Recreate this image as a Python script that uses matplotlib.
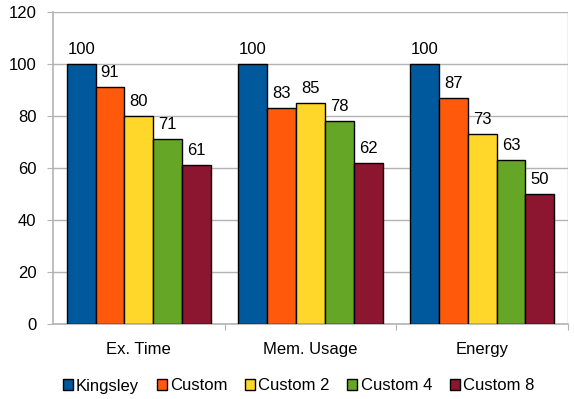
import matplotlib
matplotlib.use("Agg")
import matplotlib.pyplot as plt
import numpy as np

categories = ["Ex. Time", "Mem. Usage", "Energy"]
series_names = ["Kingsley", "Custom", "Custom 2", "Custom 4", "Custom 8"]
kingsley = [100, 100, 100]
custom = [91, 83, 87]
custom2 = [80, 85, 73]
custom4 = [71, 78, 63]
custom8 = [61, 62, 50]
colors = ["#00599c", "#ff5a0c", "#ffd72a", "#66a626", "#8c1530"]
yticks = [0, 20, 40, 60, 80, 100, 120]

plt.rcParams['font.family'] = ['Liberation Sans', 'DejaVu Sans']

fig = plt.figure(figsize=(5.74, 3.99), dpi=100)
ax = fig.add_axes([53/574, 1-324/399, (568-53)/574, (324-12)/399])

values = [kingsley, custom, custom2, custom4, custom8]
n = len(values)
bw = 0.168
x = np.arange(len(categories)) + 0.5
for i, (name, vals, c) in enumerate(zip(series_names, values, colors)):
    pos = x + (i - (n - 1) / 2) * bw
    bars = ax.bar(pos, vals, width=bw, color=c, edgecolor="black", linewidth=1.0,
                  label=name, zorder=3)
    for b, v in zip(bars, vals):
        ax.annotate(f"{v}", (b.get_x() + b.get_width() / 2, v), xytext=(0, 5),
                    textcoords="offset points", ha="center", va="bottom", fontsize=12)

ax.set_xlim(0, 3)
ax.set_ylim(0, 120)
ax.set_yticks(yticks)
ax.tick_params(axis="y", labelsize=12, length=4, color="#b3b3b3", pad=8)
ax.set_xticks([1, 2, 3])
ax.set_xticklabels([])
ax.set_xticks(x, minor=True)
ax.set_xticklabels(categories, minor=True, fontsize=12)
ax.tick_params(axis="x", which="major", length=4, color="#b3b3b3")
ax.tick_params(axis="x", which="minor", length=0, pad=13)
ax.grid(axis="y", color="#b3b3b3", linewidth=1.0, zorder=0)
ax.axvline(3, color="#b3b3b3", linewidth=1.0, zorder=0)
for s in ["top", "right"]:
    ax.spines[s].set_visible(False)
for s in ["left", "bottom"]:
    ax.spines[s].set_color("#b3b3b3")
    ax.spines[s].set_linewidth(1.2)

handles, labels = ax.get_legend_handles_labels()
fig.legend(handles, labels, loc="center", bbox_to_anchor=(0.52, 1-386/399), ncol=5,
           frameon=False, fontsize=12, handlelength=0.6, handleheight=0.6,
           handletextpad=0.2, columnspacing=1.05)

fig.savefig("out.png", dpi=100)
